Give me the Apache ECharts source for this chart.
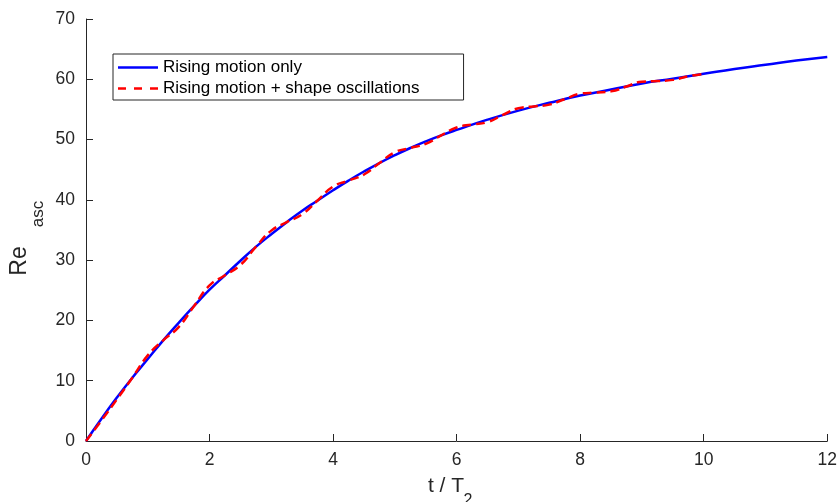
<!DOCTYPE html>
<html>
<head>
<meta charset="utf-8">
<title>Reynolds number of a rising bubble</title>
<script src="https://cdn.jsdelivr.net/npm/echarts@6/dist/echarts.min.js"></script>
<style>
  html, body { margin: 0; padding: 0; background: #ffffff; }
  #chart { width: 840px; height: 502px; }
</style>
</head>
<body>
<div id="chart"></div>
<script>
// Legend / series names
const seriesNames = ['Rising motion only', 'Rising motion + shape oscillations'];

// Axis ticks
const xTicks = [0, 2, 4, 6, 8, 10, 12];
const yTicks = [0, 10, 20, 30, 40, 50, 60, 70];

// Rising motion only: time (t / T2) and Re_asc
const tRise = [0, 0.25, 0.5, 0.75, 1.0, 1.25, 1.5, 1.75, 2.0, 2.25, 2.5, 2.75,
  3.0, 3.25, 3.5, 3.75, 4.0, 4.25, 4.5, 4.75, 5.0, 5.25, 5.5, 5.75, 6.0,
  6.5, 7.0, 7.5, 8.0, 8.5, 9.0, 9.5, 10.0, 10.5, 11.0, 11.5, 12.0];
const reRise = [0, 3.7, 7.2, 10.5, 13.6, 16.7, 19.6, 22.4, 25.1, 27.5, 29.9, 32.2,
  34.3, 36.3, 38.2, 39.9, 41.6, 43.2, 44.7, 46.1, 47.4, 48.6, 49.7, 50.7, 51.6,
  53.3, 54.8, 56.1, 57.3, 58.3, 59.3, 60.1, 60.9, 61.7, 62.4, 63.1, 63.7];

// Rising motion with shape oscillations: time (t / T2) and Re_asc
const tOsc = [0, 0.25, 0.5, 0.75, 1.0, 1.25, 1.5, 1.75, 2.0, 2.25, 2.5, 2.75,
  3.0, 3.25, 3.5, 3.75, 4.0, 4.25, 4.5, 4.75, 5.0, 5.25, 5.5, 5.75, 6.0,
  6.25, 6.5, 6.75, 7.0, 7.25, 7.5, 7.75, 8.0, 8.25, 8.5, 8.75, 9.0, 9.25,
  9.5, 9.75, 10.0];
const reOsc = [0, 3.4, 6.9, 10.5, 14.2, 16.7, 18.9, 22.4, 25.8, 27.5, 29.2, 32.2,
  34.9, 36.3, 37.6, 39.9, 42.2, 43.2, 44.2, 46.1, 47.9, 48.6, 49.3, 50.7, 52.0,
  52.5, 52.9, 54.1, 55.2, 55.5, 55.8, 56.7, 57.6, 57.8, 58.0, 58.8, 59.6, 59.7,
  59.9, 60.5, 60.9];

const pairs = (xs, ys) => xs.map((x, i) => [x, ys[i]]);

const FONT = '"Liberation Sans", Arial, Helvetica, sans-serif';
const INK = '#262626';

// Legend keys: a plain stroke and a three-dash stroke
const SOLID_KEY = 'path://M0,0h40v3h-40z';
const DASH_KEY = 'path://M0,0h8v3h-8z M16,0h8v3h-8z M32,0h8v3h-8z';

const chart = echarts.init(document.getElementById('chart'), null, { renderer: 'canvas' });

chart.setOption({
  animation: false,
  backgroundColor: '#ffffff',
  textStyle: { fontFamily: FONT, color: INK },
  grid: { left: 86, right: 10, top: 19, bottom: 61, containLabel: false },
  xAxis: {
    type: 'value',
    min: xTicks[0],
    max: xTicks[xTicks.length - 1],
    interval: xTicks[1] - xTicks[0],
    axisLine: { show: true, onZero: false, lineStyle: { color: INK, width: 1 } },
    axisTick: { show: true, inside: true, length: 7, lineStyle: { color: INK } },
    axisLabel: { fontSize: 17.5, color: INK, fontFamily: FONT, margin: 10 },
    splitLine: { show: false }
  },
  yAxis: {
    type: 'value',
    min: yTicks[0],
    max: yTicks[yTicks.length - 1],
    interval: yTicks[1] - yTicks[0],
    axisLine: { show: true, onZero: false, lineStyle: { color: INK, width: 1 } },
    axisTick: { show: true, inside: true, length: 7, lineStyle: { color: INK } },
    axisLabel: { fontSize: 17.5, color: INK, fontFamily: FONT, margin: 11 },
    splitLine: { show: false }
  },
  legend: {
    show: true,
    orient: 'vertical',
    left: 113,
    top: 54,
    data: [
      { name: seriesNames[0], icon: SOLID_KEY, itemStyle: { color: '#0000ff', borderWidth: 0 } },
      { name: seriesNames[1], icon: DASH_KEY, itemStyle: { color: '#ff0000', borderWidth: 0 } }
    ],
    symbolKeepAspect: false,
    itemWidth: 40,
    itemHeight: 2.5,
    itemGap: 4,
    padding: [5, 44, 3, 5],
    borderColor: INK,
    borderWidth: 1,
    backgroundColor: '#ffffff',
    textStyle: { fontSize: 17, color: '#000000', fontFamily: FONT, lineHeight: 17 }
  },
  series: [
    {
      name: seriesNames[0],
      type: 'line',
      data: pairs(tRise, reRise),
      smooth: true,
      symbol: 'none',
      lineStyle: { color: '#0000ff', width: 2.5 },
      itemStyle: { color: '#0000ff' },
      z: 2
    },
    {
      name: seriesNames[1],
      type: 'line',
      data: pairs(tOsc, reOsc),
      smooth: true,
      symbol: 'none',
      lineStyle: { color: '#ff0000', width: 2.5, type: [9, 5] },
      itemStyle: { color: '#ff0000' },
      z: 3
    }
  ],
  graphic: [
    {
      type: 'text', x: 20, y: 261, rotation: Math.PI / 2,
      style: { text: 'Re', font: '23px ' + FONT, fill: INK, textAlign: 'center', textVerticalAlign: 'middle' }
    },
    {
      type: 'text', x: 38, y: 214, rotation: Math.PI / 2,
      style: { text: 'asc', font: '17px ' + FONT, fill: INK, textAlign: 'center', textVerticalAlign: 'middle' }
    },
    {
      type: 'text', x: 446, y: 486,
      style: { text: 't / T', font: '21px ' + FONT, fill: INK, textAlign: 'center', textVerticalAlign: 'middle' }
    },
    {
      type: 'text', x: 468, y: 501,
      style: { text: '2', font: '16px ' + FONT, fill: INK, textAlign: 'center', textVerticalAlign: 'middle' }
    }
  ]
});
</script>
</body>
</html>
